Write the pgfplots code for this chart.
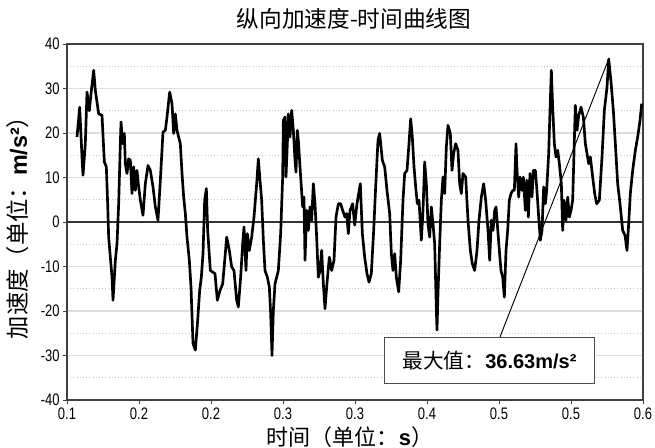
\documentclass[border=0pt]{standalone}
\usepackage{fontspec}
\usepackage{pgfplots}
\pgfplotsset{compat=1.18}
\setmainfont{Liberation Sans}
\newfontfamily\cjk{Noto Sans CJK SC}
\newfontfamily\narrow[FakeStretch=0.78]{Liberation Sans}
\begin{document}
\begin{tikzpicture}
\useasboundingbox (0,0) rectangle (491.25pt,336pt);
\begin{axis}[
  at={(50.25pt,36pt)}, anchor=south west,
  scale only axis, width=432pt, height=267pt,
  xmin=0.1, xmax=0.6, ymin=-40, ymax=40,
  xtick={0.1,0.1625,0.225,0.2875,0.35,0.4125,0.475,0.5375,0.6},
  xticklabels={0.1,0.2,0.2,0.3,0.3,0.4,0.5,0.5,0.6},
  ytick={-40,-30,...,40},
  minor ytick={-35,-25,...,35},
  ymajorgrids, yminorgrids,
  major grid style={draw=black!13, line width=0.9pt},
  minor grid style={draw=black!22, dotted, line width=0.9pt},
  tick align=outside, xtick pos=bottom, ytick pos=left,
  major tick length=3pt, minor tick length=0pt,
  tick style={black!75, line width=0.7pt},
  ticklabel style={font=\narrow\fontsize{12.5}{14}\selectfont},
  xticklabel style={yshift=1pt},
  yticklabel style={xshift=1pt},
  /pgf/number format/assume math mode=true,
  axis line style={draw=black!75, line width=0.9pt},
]
\addplot[black!80, line width=1.2pt] coordinates {(0.1,0) (0.6,0)};
\addplot[black, line width=2pt, line join=round] table {
0.10868 19.1
0.11100 25.8
0.11302 14.6
0.11389 10.5
0.11591 17.6
0.11736 29.2
0.11939 25.0
0.12083 28.8
0.12315 34.1
0.12459 29.6
0.12749 24.3
0.13038 24.0
0.13241 13.5
0.13414 12.4
0.13530 4.1
0.13617 -3.4
0.13906 -12.4
0.13993 -17.6
0.14196 -8.6
0.14340 -4.9
0.14485 4.1
0.14630 17.6
0.14688 22.5
0.14832 17.6
0.14977 19.9
0.15064 13.1
0.15208 10.9
0.15353 14.2
0.15498 13.9
0.15642 6.4
0.15787 12.4
0.15932 7.1
0.16076 11.6
0.16221 7.9
0.16366 4.9
0.16597 1.5
0.16800 8.6
0.17031 12.7
0.17234 11.6
0.17465 7.9
0.17668 3.4
0.17899 0.4
0.18102 9.4
0.18333 20.2
0.18536 20.6
0.18681 23.6
0.18912 29.2
0.19115 26.6
0.19259 19.9
0.19404 24.3
0.19549 20.6
0.19838 17.6
0.19983 10.9
0.20127 5.6
0.20272 1.9
0.20417 -3.4
0.20619 -8.6
0.20764 -14.6
0.20938 -27.3
0.21140 -28.8
0.21343 -22.1
0.21516 -15.4
0.21661 -12.4
0.21806 -7.1
0.21950 4.9
0.22095 7.5
0.22211 -1.9
0.22442 -10.9
0.22847 -11.6
0.23050 -17.6
0.23281 -15.4
0.23513 -13.9
0.23715 -7.9
0.23860 -3.4
0.24091 -6.4
0.24294 -10.1
0.24496 -10.9
0.24728 -17.6
0.24873 -19.1
0.25075 -12.4
0.25249 -4.9
0.25364 -1.1
0.25538 -10.9
0.25654 -2.6
0.25827 -6.4
0.26030 -3.4
0.26232 1.1
0.26464 8.6
0.26609 14.2
0.26753 9.4
0.26898 4.9
0.27043 -4.1
0.27187 -10.9
0.27390 -12.4
0.27563 -14.6
0.27679 -20.6
0.27795 -30.0
0.27911 -19.9
0.28055 -13.9
0.28345 -10.9
0.28547 -2.6
0.28721 10.1
0.28779 22.8
0.28923 23.6
0.29010 10.1
0.29126 17.6
0.29213 24.3
0.29357 19.1
0.29502 25.1
0.29647 20.6
0.29791 13.9
0.29878 11.2
0.29994 20.6
0.30081 18.4
0.30225 12.4
0.30341 7.9
0.30457 3.4
0.30573 5.6
0.30660 -8.6
0.30804 2.6
0.30949 -1.9
0.31094 3.4
0.31238 0.4
0.31383 8.6
0.31527 4.1
0.31672 -3.4
0.31817 -12.4
0.31961 -10.9
0.32106 -6.4
0.32251 -13.9
0.32395 -19.5
0.32540 -14.6
0.32771 -7.9
0.32974 -10.9
0.33177 -8.6
0.33350 1.1
0.33553 4.1
0.33755 4.1
0.33929 2.6
0.34132 1.1
0.34276 1.9
0.34421 -2.6
0.34566 2.6
0.34797 4.1
0.34971 -0.7
0.35173 4.1
0.35463 8.6
0.35636 -2.6
0.35839 -7.9
0.36041 -11.6
0.36215 -13.5
0.36417 -11.6
0.36620 -1.9
0.36794 7.9
0.36996 18.4
0.37141 19.9
0.37372 13.9
0.37575 12.4
0.37777 7.1
0.38009 1.9
0.38154 -7.1
0.38298 -10.9
0.38443 -7.1
0.38588 -12.4
0.38790 -15.7
0.38964 -8.6
0.39166 4.9
0.39311 10.9
0.39514 11.6
0.39687 17.6
0.39832 23.2
0.39976 19.1
0.40121 12.4
0.40266 7.9
0.40410 4.1
0.40555 4.9
0.40758 -4.1
0.40902 2.6
0.41047 13.5
0.41192 8.6
0.41336 -0.4
0.41481 -3.4
0.41626 3.4
0.41770 -0.4
0.41915 -4.9
0.42060 -19.5
0.42118 -24.3
0.42204 -16.1
0.42349 -4.9
0.42494 4.9
0.42638 10.1
0.42783 6.4
0.42928 16.9
0.43072 21.7
0.43275 19.9
0.43420 11.6
0.43564 15.4
0.43738 17.6
0.43940 16.1
0.44085 8.6
0.44230 6.4
0.44374 10.9
0.44606 10.1
0.44809 0.4
0.45011 -6.4
0.45185 -9.4
0.45387 -10.9
0.45590 -6.4
0.45764 0.4
0.45966 5.6
0.46169 8.6
0.46342 4.9
0.46545 -1.9
0.46690 -8.6
0.46834 0.4
0.46979 -1.9
0.47124 2.6
0.47240 3.4
0.47529 -6.4
0.47674 -10.9
0.47819 -12.4
0.47963 -16.9
0.48108 -6.4
0.48253 -1.9
0.48397 4.9
0.48542 6.4
0.48687 7.1
0.48831 7.1
0.48976 17.6
0.49063 11.6
0.49208 5.6
0.49323 10.1
0.49497 7.1
0.49613 10.1
0.49786 2.6
0.49902 9.4
0.50047 1.1
0.50191 10.9
0.50365 5.6
0.50481 11.6
0.50654 11.6
0.50770 7.9
0.50944 1.1
0.51088 -4.1
0.51233 -1.9
0.51378 7.9
0.51522 4.1
0.51638 7.1
0.51812 15.4
0.51927 25.1
0.52043 34.1
0.52159 25.9
0.52304 17.6
0.52448 14.6
0.52593 16.1
0.52738 13.1
0.52911 8.6
0.53027 -1.9
0.53143 4.9
0.53316 0.4
0.53461 5.6
0.53606 1.1
0.53750 2.6
0.53895 4.9
0.54040 18.4
0.54127 26.2
0.54271 20.6
0.54416 23.9
0.54618 25.8
0.54821 23.6
0.54995 17.6
0.55139 15.4
0.55284 13.1
0.55429 14.6
0.55631 10.1
0.55805 6.4
0.55978 4.1
0.56210 4.9
0.56441 14.6
0.56644 25.1
0.56875 30.3
0.57020 36.63
0.57223 31.5
0.57425 25.1
0.57599 17.6
0.57801 8.6
0.58004 4.1
0.58235 -1.9
0.58438 -3.0
0.58611 -6.4
0.58756 -0.4
0.58900 6.4
0.59103 11.6
0.59334 16.1
0.59537 19.1
0.59740 22.8
0.59884 26.6
};
\draw[black, line width=0.7pt] (axis cs:0.5702,36.63) -- (axis cs:0.4759,-25.8);
\node[draw=black!70, fill=white, line width=0.8pt, anchor=north west,
  minimum width=157.5pt, minimum height=34.5pt, inner sep=0pt]
  at (axis cs:0.3752,-25.8)
  {{\cjk\fontsize{15.5}{17}\selectfont 最大值：}{\fontsize{15}{17}\selectfont\bfseries 36.63m/s²}};
\end{axis}
\node at (265.5pt,321.75pt) {\cjk\fontsize{17}{20}\selectfont 纵向加速度-时间曲线图};
\node[rotate=90] at (13.5pt,169.5pt) {\fontsize{17.5}{19}\selectfont{\cjk 加速度（单位：}\textbf{m/s²}{\cjk ）}};
\node at (262.5pt,8.25pt) {\fontsize{16.5}{19}\selectfont{\cjk 时间（单位：}\textbf{s}{\cjk ）}};
\end{tikzpicture}
\end{document}
